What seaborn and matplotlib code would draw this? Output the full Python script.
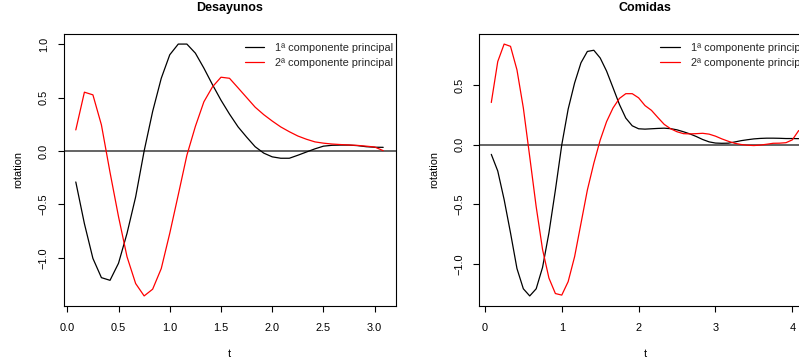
import numpy as np
import pandas as pd
import matplotlib
matplotlib.use("Agg")
import matplotlib.pyplot as plt
import seaborn as sns

# ---- data ----
t_des = [0.083, 0.167, 0.250, 0.333, 0.417, 0.500, 0.583, 0.667, 0.750, 0.833,
         0.917, 1.000, 1.083, 1.167, 1.250, 1.333, 1.417, 1.500, 1.583, 1.667,
         1.750, 1.833, 1.917, 2.000, 2.083, 2.167, 2.250, 2.333, 2.417, 2.500,
         2.583, 2.667, 2.750, 2.833, 2.917, 3.000, 3.083]
des_pc1 = [-0.29, -0.68, -1.005, -1.185, -1.21, -1.05, -0.77, -0.43, 0.0, 0.37,
           0.68, 0.90, 1.0, 1.0, 0.915, 0.775, 0.62, 0.475, 0.345, 0.225,
           0.13, 0.04, -0.02, -0.055, -0.068, -0.068, -0.04, -0.01, 0.02, 0.045,
           0.053, 0.055, 0.055, 0.05, 0.04, 0.035, 0.034]
des_pc2 = [0.197, 0.55, 0.525, 0.244, -0.20, -0.615, -0.99, -1.24, -1.356, -1.293,
           -1.10, -0.77, -0.41, -0.04, 0.23, 0.46, 0.60, 0.69, 0.68, 0.59,
           0.50, 0.41, 0.34, 0.28, 0.225, 0.18, 0.14, 0.11, 0.085, 0.073,
           0.065, 0.06, 0.056, 0.052, 0.045, 0.037, 0.003]

t_com = [0.083, 0.167, 0.250, 0.333, 0.417, 0.500, 0.583, 0.667, 0.750, 0.833,
         0.917, 1.000, 1.083, 1.167, 1.250, 1.333, 1.417, 1.500, 1.583, 1.667,
         1.750, 1.833, 1.917, 2.000, 2.083, 2.167, 2.250, 2.333, 2.417, 2.500,
         2.583, 2.667, 2.750, 2.833, 2.917, 3.000, 3.083, 3.167, 3.250, 3.333,
         3.417, 3.500, 3.583, 3.667, 3.750, 3.833, 3.917, 4.000, 4.083]
com_pc1 = [-0.08, -0.22, -0.46, -0.74, -1.04, -1.21, -1.27, -1.21, -1.03, -0.74,
           -0.38, 0.0, 0.30, 0.52, 0.69, 0.785, 0.795, 0.73, 0.62, 0.48,
           0.34, 0.225, 0.16, 0.135, 0.132, 0.135, 0.138, 0.14, 0.136, 0.126,
           0.11, 0.092, 0.07, 0.045, 0.025, 0.015, 0.013, 0.014, 0.024, 0.035,
           0.043, 0.05, 0.054, 0.056, 0.056, 0.055, 0.053, 0.053, 0.052]
com_pc2 = [0.356, 0.70, 0.847, 0.828, 0.63, 0.31, -0.10, -0.52, -0.88, -1.12,
           -1.25, -1.263, -1.15, -0.94, -0.66, -0.38, -0.155, 0.04, 0.195, 0.31,
           0.39, 0.43, 0.43, 0.395, 0.33, 0.29, 0.23, 0.172, 0.135, 0.11,
           0.094, 0.092, 0.094, 0.097, 0.09, 0.073, 0.05, 0.03, 0.013, 0.003,
           -0.003, -0.006, -0.002, 0.005, 0.013, 0.014, 0.018, 0.042, 0.12]

titles = ["Desayunos", "Comidas"]
series_labels = ["1ª componente principal", "2ª componente principal"]
des_yticks = [-1.0, -0.5, 0.0, 0.5, 1.0]
des_xticks = [0.0, 0.5, 1.0, 1.5, 2.0, 2.5, 3.0]
com_yticks = [-1.0, -0.5, 0.0, 0.5]
com_xticks = [0, 1, 2, 3, 4]

sns.set_theme(style="white")
plt.rcParams["font.family"] = ["Liberation Sans", "DejaVu Sans"]
plt.rcParams["axes.unicode_minus"] = True

W, H = 799, 364
fig = plt.figure(figsize=(W / 100, H / 100), dpi=100)

FS = 7.9
panels = [
    (63.5, t_des, des_pc1, des_pc2, des_xticks, des_yticks, ["0.0", "0.5", "1.0", "1.5", "2.0", "2.5", "3.0"]),
    (479.0, t_com, com_pc1, com_pc2, com_xticks, com_yticks, ["0", "1", "2", "3", "4"]),
]

def ylab(v):
    s = f"{abs(v):.1f}"
    return ("\u2212" + s) if v < 0 else s

for i, (left_px, t, pc1, pc2, xt, yt, xtl) in enumerate(panels):
    ax = fig.add_axes([left_px / W, (H - 306) / H, 332 / W, 272 / H])
    ax.set_facecolor("white")
    sns.lineplot(x=t, y=pc1, color="black", lw=0.9, ax=ax, label=series_labels[0], legend=False)
    sns.lineplot(x=t, y=pc2, color="red", lw=0.9, ax=ax, label=series_labels[1], legend=False)
    ax.axhline(0, color="#3a3a3a", lw=1.1, zorder=0)

    # R-style 4% axis expansion
    tmin, tmax = min(t), max(t)
    ymin = min(min(pc1), min(pc2))
    ymax = max(max(pc1), max(pc2))
    dx = 0.04 * (tmax - tmin)
    dy = 0.04 * (ymax - ymin)
    ax.set_xlim(tmin - dx, tmax + dx)
    ax.set_ylim(ymin - dy, ymax + dy)

    ax.set_xticks(xt)
    ax.set_xticklabels(xtl)
    ax.set_yticks(yt)
    ax.set_yticklabels([ylab(v) for v in yt], rotation=90, va="center")
    ax.tick_params(axis="both", which="both", direction="out", length=4.5, width=0.8,
                   color="black", labelsize=FS, labelcolor="black", bottom=True, left=True)
    ax.tick_params(axis="x", pad=7.5)
    ax.tick_params(axis="y", pad=6)
    for s in ax.spines.values():
        s.set_visible(True)
        s.set_color("black")
        s.set_linewidth(0.8)

    ax.set_xlabel("t", fontsize=FS, color="black", labelpad=12)
    ax.set_ylabel("rotation", fontsize=FS, color="black", labelpad=11)
    ax.text(0.5, 1 + (34 - 7.8) / 272, titles[i], transform=ax.transAxes,
            ha="center", va="center", fontsize=9, fontweight="bold", color="black")

    leg = ax.legend(loc="upper right", bbox_to_anchor=(1.0 + 4 / 332, 1.0 - 3.3 / 272), frameon=False,
                    fontsize=FS, handlelength=1.8, handletextpad=1.0,
                    borderaxespad=0.0, borderpad=0.55, labelspacing=0.38)
    for line in leg.get_lines():
        line.set_linewidth(0.9)

fig.savefig("out.png", dpi=100)
